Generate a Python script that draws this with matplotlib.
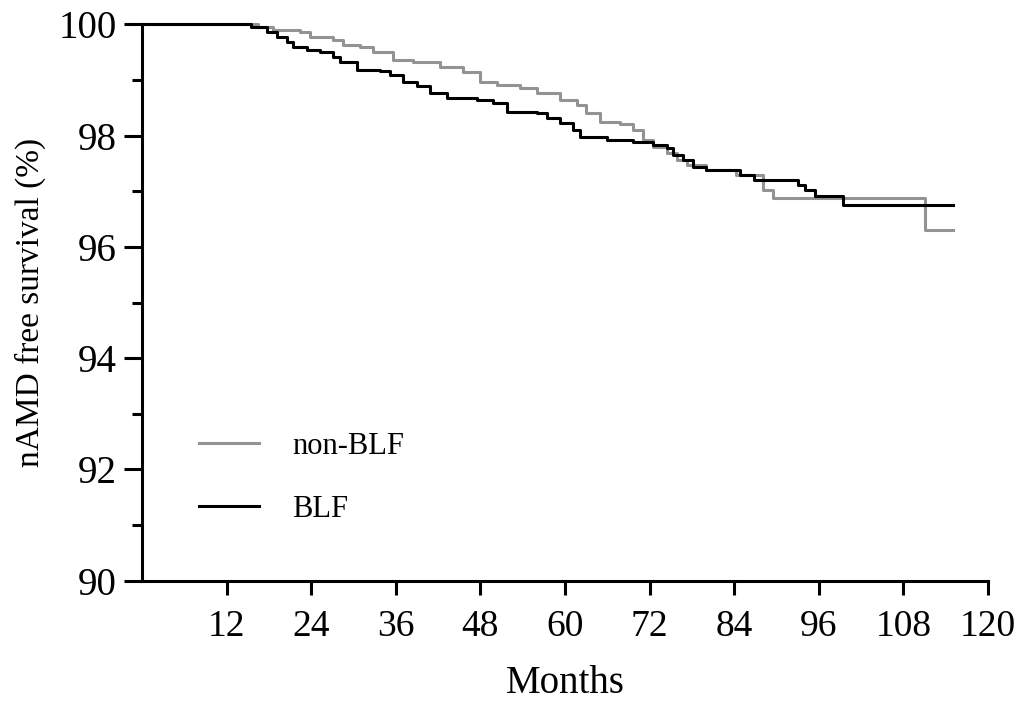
import numpy as np
from matplotlib import pyplot as plt

# step-curve data (months, survival %)
blf_months = [0, 15.5, 17.7, 19.1, 20.6, 21.4, 23.4, 25.2, 27.1, 28.1, 30.5,
              33.8, 35.2, 37.0, 39.0, 40.9, 43.3, 47.5, 49.8, 51.8, 56.0,
              57.4, 59.3, 61.1, 62.1, 66.0, 69.6, 72.5, 74.5, 75.3, 76.7,
              78.2, 80.0, 84.8, 86.8, 93.0, 94.0, 95.5, 99.4, 115.0]
blf_surv = [100, 99.96, 99.87, 99.78, 99.68, 99.59, 99.55, 99.50, 99.41, 99.33,
            99.19, 99.17, 99.10, 98.97, 98.90, 98.77, 98.68, 98.65, 98.59, 98.43,
            98.41, 98.32, 98.23, 98.10, 97.98, 97.93, 97.89, 97.84, 97.78, 97.66,
            97.57, 97.44, 97.39, 97.30, 97.21, 97.12, 97.03, 96.91, 96.76, 96.76]

nonblf_months = [0, 16.5, 18.6, 22.4, 23.8, 27.1, 28.5, 30.9, 32.8, 35.6, 38.5,
                 42.3, 45.5, 48.0, 50.4, 53.6, 56.0, 59.3, 61.7, 63.0, 65.0,
                 67.8, 69.7, 71.0, 72.5, 74.5, 75.9, 77.3, 80.0, 84.3, 88.1,
                 89.5, 111.0, 115.0]
nonblf_surv = [100, 99.95, 99.91, 99.86, 99.78, 99.73, 99.64, 99.59, 99.50, 99.37,
               99.32, 99.24, 99.15, 98.97, 98.92, 98.86, 98.77, 98.65, 98.56, 98.41,
               98.25, 98.21, 98.10, 97.93, 97.80, 97.69, 97.57, 97.48, 97.39, 97.30,
               97.03, 96.88, 96.31, 96.31]

x_ticks = [12, 24, 36, 48, 60, 72, 84, 96, 108, 120]
y_ticks = [90, 92, 94, 96, 98, 100]

plt.rcParams['font.family'] = ['Liberation Serif', 'DejaVu Serif']

fig = plt.figure(figsize=(10.26, 7.04), dpi=100)
ax = fig.add_axes([0.1384, 0.1754, 0.8246, 0.7898])

ax.step(nonblf_months, nonblf_surv, where='post', color='#939393', lw=2.2,
        label='non-BLF', clip_on=False)
ax.step(blf_months, blf_surv, where='post', color='black', lw=2.2,
        label='BLF', clip_on=False)

ax.set_xlim(0, 120)
ax.set_ylim(90, 100)
ax.set_xticks(x_ticks)
ax.set_yticks(y_ticks)
ax.set_yticks(np.arange(91, 100, 2), minor=True)

for side in ['top', 'right']:
    ax.spines[side].set_visible(False)
for side in ['left', 'bottom']:
    ax.spines[side].set_linewidth(2.2)

ax.tick_params(axis='y', which='major', length=13, width=2.2, labelsize=28, pad=5)
ax.tick_params(axis='y', which='minor', length=7, width=2.2)
ax.tick_params(axis='x', which='major', length=10, width=2.2, labelsize=27, pad=11)

ax.set_ylabel('nAMD free survival (%)', fontsize=24, labelpad=9)
ax.set_xlabel('Months', fontsize=28, labelpad=15)

ax.legend(loc='lower left', bbox_to_anchor=(0.035, 0.052), frameon=False,
          fontsize=22, handlelength=1.95, handletextpad=1.1, labelspacing=1.13)

fig.savefig('out.png', dpi=100)
